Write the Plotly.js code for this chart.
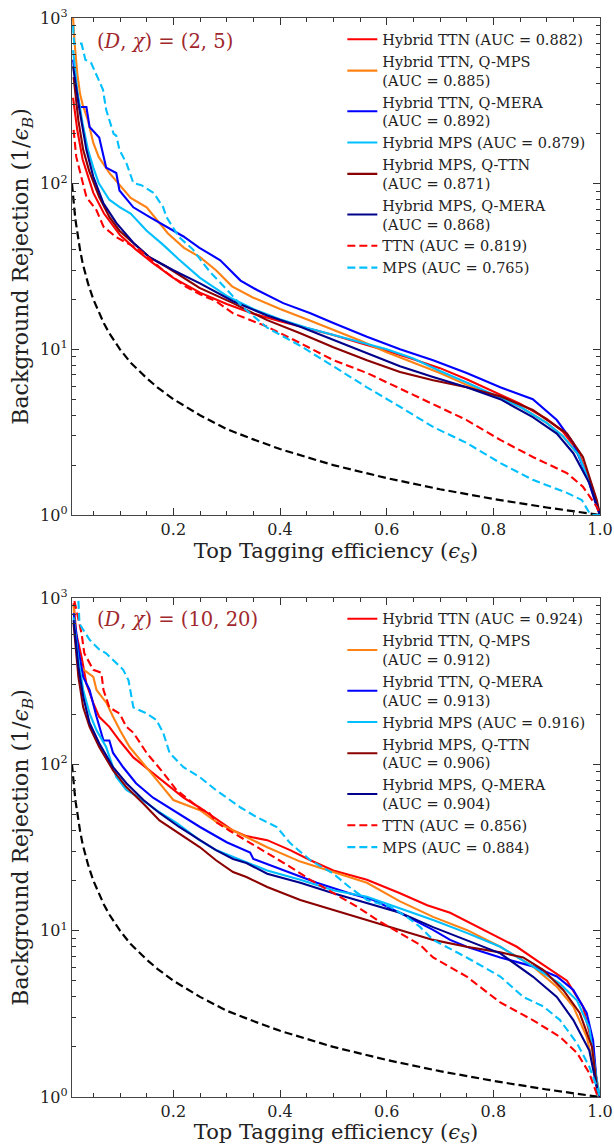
<!DOCTYPE html>
<html>
<head>
<meta charset="utf-8">
<script src="https://cdn.plot.ly/plotly-3.0.1.min.js"></script>
<style>html,body{margin:0;padding:0;background:#fff;}#plot{width:614px;height:1146px;}</style>
</head>
<body>
<div id="plot"></div>
<script>
// ---------- series names & colours ----------
const seriesNames = ["Hybrid TTN", "Hybrid TTN, Q-MPS", "Hybrid TTN, Q-MERA", "Hybrid MPS", "Hybrid MPS, Q-TTN", "Hybrid MPS, Q-MERA", "TTN", "MPS"];
const aucTop = ["0.882", "0.885", "0.892", "0.879", "0.871", "0.868", "0.819", "0.765"];
const aucBottom = ["0.924", "0.912", "0.913", "0.916", "0.906", "0.904", "0.856", "0.884"];
const panelLabels = ["(<i>D</i>, <i>χ</i>) = (2, 5)", "(<i>D</i>, <i>χ</i>) = (10, 20)"];

// ---------- random-classifier reference ----------
const randX = [0.01, 0.011, 0.012, 0.013, 0.015, 0.017, 0.02, 0.025, 0.03, 0.035, 0.04, 0.05, 0.06, 0.07, 0.08, 0.1, 0.12, 0.15, 0.17, 0.2, 0.25, 0.3, 0.35, 0.4, 0.5, 0.6, 0.7, 0.8, 0.9, 1.0];
const randY = [100, 91, 83, 77, 67, 59, 50, 40, 33, 28.6, 25, 20, 16.7, 14.3, 12.5, 10, 8.3, 6.7, 5.9, 5, 4, 3.3, 2.86, 2.5, 2, 1.67, 1.43, 1.25, 1.11, 1.0];

// ---------- TOP panel (D, chi) = (2, 5) ----------
const top_hTTN_x = [0.012,0.02,0.03,0.04,0.05,0.07,0.1,0.13,0.16,0.2,0.25,0.3,0.35,0.4,0.45,0.5,0.55,0.6,0.65,0.7,0.75,0.8,0.85,0.9,0.93,0.96,0.98,0.99,1.0];
const top_hTTN_y = [330,210,140,110,88,66,49,40,33.5,27,22,18.8,16.4,14.8,13.4,12.2,10.9,9.8,8.7,7.7,6.6,5.6,4.7,3.8,3.2,2.4,1.6,1.3,1.0];

const top_hTTNqMPS_x = [0.012,0.015,0.02,0.025,0.03,0.04,0.05,0.06,0.08,0.1,0.12,0.15,0.17,0.19,0.22,0.25,0.28,0.31,0.35,0.4,0.45,0.5,0.55,0.6,0.65,0.7,0.75,0.8,0.85,0.9,0.93,0.96,0.98,0.99,1.0];
const top_hTTNqMPS_y = [1000,700,460,350,300,240,176,145,116,98,82,72,60,50,41,36,30,24,20.5,17.5,15.2,13.1,11.3,9.6,8.3,7.2,6.1,5.3,4.5,3.6,3.0,2.3,1.6,1.3,1.0];

const top_hTTNqMERA_x = [0.012,0.018,0.024,0.037,0.043,0.061,0.074,0.093,0.099,0.125,0.155,0.187,0.219,0.249,0.288,0.326,0.357,0.406,0.457,0.5,0.563,0.625,0.687,0.75,0.813,0.874,0.919,0.95,0.976,0.994,1.0];
const top_hTTNqMERA_y = [560,380,290,290,220,190,125,116,91,72,63,55,48,41,34.5,26,22.8,19,16.5,14.4,11.9,10,8.6,7.2,5.9,5.0,3.74,2.72,1.7,1.12,1.0];

const top_hMPS_x = [0.012,0.02,0.03,0.04,0.05,0.06,0.08,0.1,0.12,0.15,0.18,0.21,0.25,0.3,0.35,0.4,0.45,0.5,0.55,0.6,0.65,0.7,0.75,0.8,0.85,0.9,0.93,0.96,0.98,0.99,1.0];
const top_hMPS_y = [640,360,230,160,125,101,80,72,66,52,43,35,27,21,17.5,15.2,13.5,12.2,11,10,8.8,7.4,6.3,5.3,4.5,3.6,3.0,2.3,1.6,1.3,1.0];

const top_hMPSqTTN_x = [0.013,0.022,0.031,0.042,0.061,0.08,0.099,0.125,0.155,0.187,0.249,0.312,0.376,0.438,0.5,0.563,0.625,0.687,0.75,0.813,0.874,0.938,0.968,0.994,1.0];
const top_hMPSqTTN_y = [440,240,160,120,83,63,52,44,36,31.5,23.5,19,15,12.5,10.3,8.6,7.3,6.5,5.9,5.2,4.3,3.1,2.24,1.23,1.0];

const top_hMPSqMERA_x = [0.012,0.024,0.037,0.05,0.069,0.093,0.125,0.155,0.2,0.25,0.312,0.376,0.438,0.5,0.563,0.625,0.687,0.75,0.813,0.874,0.919,0.95,0.98,0.995,1.0];
const top_hMPSqMERA_y = [510,280,160,110,76,58,44,36,30,25,19.5,16,13.7,11.4,9.5,7.9,6.8,5.9,5.0,3.9,3.1,2.36,1.56,1.1,1.0];

const top_TTN_x = [0.013,0.018,0.037,0.056,0.069,0.093,0.112,0.136,0.181,0.224,0.25,0.28,0.312,0.376,0.438,0.5,0.563,0.625,0.687,0.75,0.813,0.874,0.938,0.968,0.994,1.0];
const top_TTN_y = [211,145,83,69,55,47.5,44,40,30,23.8,21.5,19.5,16.5,13.7,10.9,8.6,7.2,5.8,4.7,3.74,2.84,2.24,1.79,1.48,1.12,1.0];

const top_MPS_x = [0.012,0.014,0.028,0.035,0.046,0.062,0.068,0.074,0.088,0.093,0.099,0.112,0.125,0.14,0.163,0.181,0.187,0.211,0.237,0.25,0.27,0.3,0.33,0.376,0.438,0.5,0.563,0.625,0.687,0.75,0.813,0.874,0.938,0.966,0.98,0.987,1.0];
const top_MPS_y = [900,700,700,560,535,410,370,280,200,195,160,133,101,98,88,72,63,47.5,40,35,29,23,18,13.5,10.5,7.9,5.9,4.5,3.4,2.72,2.06,1.63,1.36,1.23,1.03,1.0,1.0];

// ---------- BOTTOM panel (D, chi) = (10, 20) ----------
const bot_hTTN_x = [0.013,0.018,0.028,0.037,0.05,0.061,0.08,0.099,0.125,0.155,0.187,0.219,0.249,0.283,0.312,0.337,0.376,0.419,0.457,0.5,0.563,0.625,0.676,0.719,0.781,0.844,0.888,0.938,0.968,0.987,0.995,1.0];
const bot_hTTN_y = [930,610,440,305,233,193,168,139,110,92,77,63,55,46,40,37,35,30.5,26.5,23,20.2,16.8,14.2,12.8,10.1,8,6.4,5,3.5,2,1.1,1.0];

const bot_hTTNqMPS_x = [0.013,0.018,0.021,0.032,0.05,0.056,0.075,0.087,0.1,0.118,0.143,0.174,0.2,0.25,0.283,0.312,0.337,0.376,0.438,0.5,0.563,0.625,0.687,0.75,0.813,0.874,0.919,0.95,0.975,0.994,1.0];
const bot_hTTNqMPS_y = [890,560,405,370,335,280,233,193,160,127,101,77,61,53,44.5,40,36.5,31.7,26,22.5,19.4,15,12.1,10.1,8,6.1,4.6,3.5,2.3,1.27,1.0];

const bot_hTTNqMERA_x = [0.013,0.022,0.031,0.043,0.056,0.069,0.08,0.087,0.106,0.13,0.162,0.2,0.25,0.3,0.344,0.35,0.406,0.469,0.53,0.575,0.625,0.687,0.719,0.75,0.813,0.874,0.919,0.95,0.975,0.987,0.995,1.0];
const bot_hTTNqMERA_y = [810,490,335,280,193,139,139,117,96,77,63,53,42,34,29.5,27,23,19.4,16.8,15.3,12.8,10.1,8.8,8.0,6.9,6.1,5.3,4.4,3.2,2.2,1.1,1.0];

const bot_hMPS_x = [0.013,0.022,0.031,0.043,0.056,0.074,0.093,0.112,0.136,0.168,0.206,0.249,0.28,0.312,0.376,0.438,0.5,0.563,0.625,0.687,0.75,0.813,0.874,0.925,0.957,0.98,0.995,1.0];
const bot_hMPS_y = [765,425,280,202,160,127,84,70,63,53,44.5,35,30.5,27.8,23,20.2,17.5,16,13.6,11.6,9.7,8,6.1,4.8,3.8,2.6,1.2,1.0];

const bot_hMPSqTTN_x = [0.013,0.022,0.031,0.043,0.061,0.087,0.112,0.144,0.174,0.211,0.25,0.28,0.312,0.337,0.376,0.438,0.5,0.563,0.625,0.687,0.75,0.813,0.856,0.894,0.931,0.962,0.985,0.995,1.0];
const bot_hMPSqTTN_y = [700,335,220,168,127,92,73,58,46,38.5,31.7,26.5,22.5,21,18.3,15.3,13.3,11.6,10.1,8.8,8.0,7.4,6.9,5.8,4.4,3.2,2.0,1.1,1.0];

const bot_hMPSqMERA_x = [0.013,0.022,0.031,0.043,0.061,0.087,0.112,0.144,0.174,0.211,0.25,0.28,0.312,0.337,0.376,0.438,0.5,0.563,0.625,0.687,0.75,0.813,0.874,0.919,0.95,0.98,0.995,1.0];
const bot_hMPSqMERA_y = [735,385,255,177,134,96,77,61,51,42,35,30.5,27,25.5,22,19.4,16.8,14.6,12.8,10.5,8.8,7.3,5.3,4.0,2.9,1.9,1.1,1.0];

const bot_TTN_x = [0.0145,0.022,0.028,0.033,0.05,0.065,0.069,0.08,0.099,0.112,0.125,0.15,0.181,0.206,0.237,0.25,0.267,0.282,0.305,0.326,0.376,0.419,0.457,0.5,0.545,0.582,0.625,0.663,0.687,0.75,0.813,0.874,0.925,0.957,0.98,0.995,1.0];
const bot_TTN_y = [960,735,610,465,370,355,280,220,202,168,155,117,89,70,58,54,51,44.5,40,36.5,29,24.2,20.2,16.8,13.9,11.6,9.7,8.2,6.9,5.3,3.7,2.9,2.3,1.84,1.39,1.02,1.0];

const bot_MPS_x = [0.022,0.024,0.043,0.061,0.074,0.106,0.116,0.125,0.15,0.168,0.181,0.193,0.219,0.249,0.28,0.305,0.326,0.357,0.394,0.419,0.457,0.5,0.53,0.563,0.607,0.638,0.663,0.687,0.75,0.813,0.856,0.894,0.925,0.957,0.98,0.994,1.0];
const bot_MPS_y = [960,700,560,490,465,370,320,220,202,185,155,117,96,84,70,61,55,48,42,33.6,26.5,22,18.3,15.3,13.9,12.1,10.5,8.8,6.9,5.3,4.0,3.5,2.9,2.1,1.52,1.15,1.0];

// ---------- styles ----------
const colors = ["#ff0000", "#ff8214", "#0000ff", "#00bfff", "#8b0000", "#00008b", "#ff0000", "#00bfff"];
const dashes = ["solid", "solid", "solid", "solid", "solid", "solid", "8px,4px", "8px,4px"];

const topData = [
  [top_hTTN_x, top_hTTN_y], [top_hTTNqMPS_x, top_hTTNqMPS_y], [top_hTTNqMERA_x, top_hTTNqMERA_y],
  [top_hMPS_x, top_hMPS_y], [top_hMPSqTTN_x, top_hMPSqTTN_y], [top_hMPSqMERA_x, top_hMPSqMERA_y],
  [top_TTN_x, top_TTN_y], [top_MPS_x, top_MPS_y]
];
const botData = [
  [bot_hTTN_x, bot_hTTN_y], [bot_hTTNqMPS_x, bot_hTTNqMPS_y], [bot_hTTNqMERA_x, bot_hTTNqMERA_y],
  [bot_hMPS_x, bot_hMPS_y], [bot_hMPSqTTN_x, bot_hMPSqTTN_y], [bot_hMPSqMERA_x, bot_hMPSqMERA_y],
  [bot_TTN_x, bot_TTN_y], [bot_MPS_x, bot_MPS_y]
];

function legendLabel(name, auc) {
  const a = "(AUC = " + auc + ")";
  if (name.indexOf(",") >= 0) return name + "<br>" + a;
  return name + " " + a;
}

const traces = [];
function addPanel(data, aucs, xa, ya, leg) {
  traces.push({x: randX, y: randY, xaxis: xa, yaxis: ya, mode: "lines", showlegend: false,
    line: {color: "#000", width: 2.2, dash: "8px,4px"}, hoverinfo: "skip"});
  data.forEach((d, i) => {
    traces.push({x: d[0], y: d[1], xaxis: xa, yaxis: ya, mode: "lines", legend: leg,
      name: legendLabel(seriesNames[i], aucs[i]),
      line: {color: colors[i], width: 2.1, dash: dashes[i]}});
  });
}
addPanel(topData, aucTop, "x", "y", "legend");
addPanel(botData, aucBottom, "x2", "y2", "legend2");

const FONT = "DejaVu Serif, serif";
const yMinor = [2,3,4,5,6,7,8,9,20,30,40,50,60,70,80,90,200,300,400,500,600,700,800,900];
function xAxis(anchor) {
  return {anchor: anchor, range: [0.01, 1.0], domain: [0, 1],
    tickmode: "array", tickvals: [0.2, 0.4, 0.6, 0.8, 1.0], ticktext: ["0.2", "0.4", "0.6", "0.8", "1.0"],
    ticks: "inside", ticklen: 7, tickwidth: 1, tickcolor: "#333", mirror: "allticks",
    showline: true, linecolor: "#444", linewidth: 1.2, showgrid: false, zeroline: false,
    minor: {ticks: "inside", ticklen: 4, tickwidth: 1, tickcolor: "#333", dtick: 0.05, tick0: 0, showgrid: false},
    tickfont: {family: FONT, size: 16, color: "#222"},
    title: {text: "Top Tagging efficiency (<i>ϵ</i><sub><i>S</i></sub>)", font: {family: FONT, size: 21, color: "#222"}, standoff: 4}
  };
}
function yAxis(anchor, dom) {
  return {anchor: anchor, type: "log", range: [0, 3], domain: dom,
    tickmode: "array", tickvals: [1, 10, 100, 1000],
    ticktext: ["10<sup>0</sup>", "10<sup>1</sup>", "10<sup>2</sup>", "10<sup>3</sup>"],
    ticks: "inside", ticklen: 7, tickwidth: 1, tickcolor: "#333", mirror: "allticks",
    showline: true, linecolor: "#444", linewidth: 1.2, showgrid: false, zeroline: false,
    minor: {ticks: "inside", ticklen: 4, tickwidth: 1, tickcolor: "#333", tickmode: "array", tickvals: yMinor, showgrid: false},
    tickfont: {family: FONT, size: 16, color: "#222"},
    title: {text: "Background Rejection (1/<i>ϵ</i><sub><i>B</i></sub>)", font: {family: FONT, size: 22, color: "#222"}, standoff: 5}
  };
}
const legendCommon = {xref: "paper", yref: "paper", xanchor: "left", yanchor: "top",
  bgcolor: "rgba(0,0,0,0)", borderwidth: 0, font: {family: FONT, size: 14.5, color: "#222"}, tracegroupgap: 0};

const layout = {
  width: 614, height: 1146,
  margin: {l: 72, r: 14, t: 18, b: 49},
  paper_bgcolor: "#fff", plot_bgcolor: "#fff",
  font: {family: FONT, color: "#222"},
  xaxis: xAxis("y"), yaxis: yAxis("x", [0.5394, 1]),
  xaxis2: xAxis("y2"), yaxis2: yAxis("x2", [0, 0.4625]),
  legend: Object.assign({x: 0.512, y: 0.995}, legendCommon),
  legend2: Object.assign({x: 0.512, y: 0.458}, legendCommon),
  annotations: [
    {xref: "x domain", yref: "y domain", x: 0.044, y: 0.952, xanchor: "left", yanchor: "middle", showarrow: false,
     text: panelLabels[0], font: {family: FONT, size: 19.5, color: "#a0282d"}},
    {xref: "x2 domain", yref: "y2 domain", x: 0.044, y: 0.956, xanchor: "left", yanchor: "middle", showarrow: false,
     text: panelLabels[1], font: {family: FONT, size: 19.5, color: "#a0282d"}}
  ],
  showlegend: true
};

Plotly.newPlot("plot", traces, layout, {displayModeBar: false, staticPlot: true});
</script>
</body>
</html>
